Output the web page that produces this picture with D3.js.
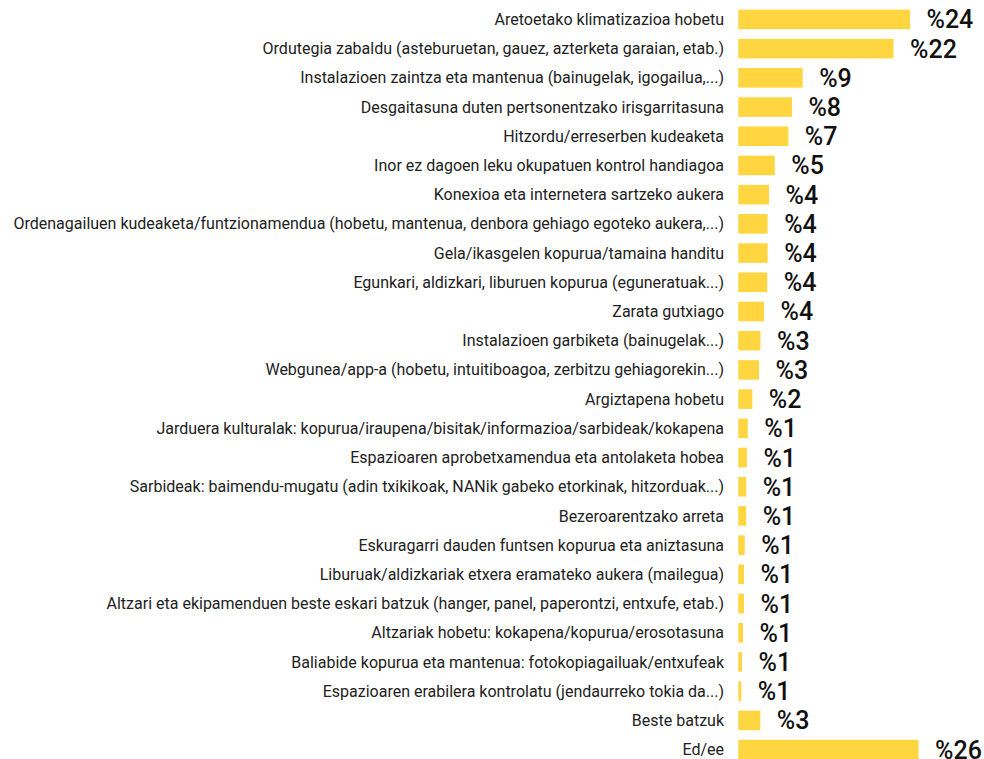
<!DOCTYPE html>
<html>
<head>
<meta charset="utf-8">
<script src="https://cdn.jsdelivr.net/npm/d3@7"></script>
<style>
  body { margin: 0; background: #fff; }
  svg { display: block; }
</style>
</head>
<body>
<div id="chart"></div>
<script>
var categories = [
    "Aretoetako klimatizazioa hobetu",
    "Ordutegia zabaldu (asteburuetan, gauez, azterketa garaian, etab.)",
    "Instalazioen zaintza eta mantenua (bainugelak, igogailua,...)",
    "Desgaitasuna duten pertsonentzako irisgarritasuna",
    "Hitzordu/erreserben kudeaketa",
    "Inor ez dagoen leku okupatuen kontrol handiagoa",
    "Konexioa eta internetera sartzeko aukera",
    "Ordenagailuen kudeaketa/funtzionamendua (hobetu, mantenua, denbora gehiago egoteko aukera,...)",
    "Gela/ikasgelen kopurua/tamaina handitu",
    "Egunkari, aldizkari, liburuen kopurua (eguneratuak...)",
    "Zarata gutxiago",
    "Instalazioen garbiketa (bainugelak...)",
    "Webgunea/app-a (hobetu, intuitiboagoa, zerbitzu gehiagorekin...)",
    "Argiztapena hobetu",
    "Jarduera kulturalak: kopurua/iraupena/bisitak/informazioa/sarbideak/kokapena",
    "Espazioaren aprobetxamendua eta antolaketa hobea",
    "Sarbideak: baimendu-mugatu (adin txikikoak, NANik gabeko etorkinak, hitzorduak...)",
    "Bezeroarentzako arreta",
    "Eskuragarri dauden funtsen kopurua eta aniztasuna",
    "Liburuak/aldizkariak etxera eramateko aukera (mailegua)",
    "Altzari eta ekipamenduen beste eskari batzuk (hanger, panel, paperontzi, entxufe, etab.)",
    "Altzariak hobetu: kokapena/kopurua/erosotasuna",
    "Baliabide kopurua eta mantenua: fotokopiagailuak/entxufeak",
    "Espazioaren erabilera kontrolatu (jendaurreko tokia da...)",
    "Beste batzuk",
    "Ed/ee"
];

// bar lengths (percent)
var values = [24.0, 21.7, 9.0, 7.5, 7.0, 5.1, 4.3, 4.1, 4.1, 4.05, 3.6, 3.1, 2.9, 1.96,
    1.33, 1.2, 1.1, 1.1, 0.9, 0.8, 0.8, 0.66, 0.52, 0.42, 3.08, 25.2];

// printed labels
var valueLabels = ["%24", "%22", "%9", "%8", "%7", "%5", "%4", "%4", "%4", "%4", "%4", "%3", "%3", "%2",
    "%1", "%1", "%1", "%1", "%1", "%1", "%1", "%1", "%1", "%1", "%3", "%26"];

var data = categories.map(function(c, i) {
    return {name: c, value: values[i], label: valueLabels[i]};
});

var width = 984, height = 759;
var barStart = 738.3;

var svg = d3.select("#chart")
    .append("svg")
    .attr("width", width)
    .attr("height", height);

var y = d3.scaleBand()
    .domain(categories)
    .range([0, 769])
    .padding(0.33);

var x = d3.scaleLinear()
    .domain([0, 30])
    .range([barStart, barStart + 214.6]);

var rows = svg.selectAll(".row")
    .data(data)
    .enter().append("g")
    .attr("class", "row")
    .attr("transform", function(d) { return "translate(0," + y(d.name) + ")"; });

rows.append("rect")
    .attr("x", x(0))
    .attr("y", 0)
    .attr("height", y.bandwidth())
    .attr("width", function(d) { return x(d.value) - x(0); })
    .attr("fill", "#FFD540");

rows.append("text")
    .attr("x", 724)
    .attr("y", y.bandwidth() / 2)
    .attr("dy", "0.35em")
    .attr("text-anchor", "end")
    .style("font-family", "Roboto, sans-serif")
    .style("font-size", "16px")
    .style("fill", "#222")
    .text(function(d) { return d.name; });

rows.append("text")
    .attr("x", function(d) { return x(d.value) + 16.5; })
    .attr("y", y.bandwidth() / 2)
    .attr("dy", "0.36em")
    .style("font-family", "Roboto, sans-serif")
    .style("font-size", "25px")
    .style("font-weight", "500")
    .style("fill", "#111")
    .text(function(d) { return d.label; });
</script>
</body>
</html>
